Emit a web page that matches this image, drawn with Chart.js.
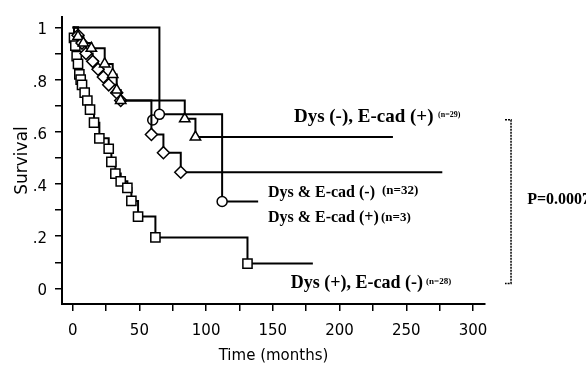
<!DOCTYPE html>
<html>
<head>
<meta charset="utf-8">
<script src="https://cdn.jsdelivr.net/npm/chart.js@4.4.1/dist/chart.umd.min.js"></script>
<style>
html, body { margin: 0; padding: 0; background: #fff; }
#caixa { width: 586px; height: 369px; }
</style>
</head>
<body>
<div id="caixa"><canvas id="grafico" width="586" height="369"></canvas></div>
<script>

// Kaplan-Meier steps (months, survival)
const quadT = [0, 1, 2, 3, 4, 5, 6, 7, 9, 11, 13, 16, 20, 27, 29, 32, 36, 41, 44, 49, 62, 131, 180]
const quadS = [1, .96, .93, .89, .86, .82, .80, .78, .75, .72, .685, .635, .575, .535, .485, .44, .41, .385, .335, .275, .195, .095, .095]

const triT = [0, 4, 8, 14, 24, 30, 33, 36, 84, 92, 240]
const triS = [1, .965, .94, .92, .86, .82, .76, .72, .65, .58, .58]

const losT = [0, 4, 7, 10, 15, 19, 23, 27, 33, 36, 59, 68, 81, 277]
const losS = [1, .97, .94, .90, .87, .84, .81, .78, .75, .72, .59, .52, .445, .445]

const circT = [0, 65, 112, 139]
const circS = [1, .667, .333, .333]

// loose censor mark
const censT = [60]
const censS = [.645]

const xTicks = [0, 25, 50, 75, 100, 125, 150, 175, 200, 225, 250, 275, 300]
const xLabels = ["0", "", "50", "", "100", "", "150", "", "200", "", "250", "", "300"]
const yTicks = [0, .1, .2, .3, .4, .5, .6, .7, .8, .9, 1]
const yLabels = ["0", "", ".2", "", ".4", "", ".6", "", ".8", "", "1"]

function pontos(t, s){
  return t.map((v, i) => ({ x: v, y: s[i] }))
}

// no marker on the first and last point of a curve
function raio(r){
  return (c) => (c.dataIndex === 0 || c.dataIndex === c.dataset.data.length - 1) ? 0 : r
}

function curva(nome, t, s, estilo, r){
  return {
    label: nome,
    data: pontos(t, s),
    showLine: true,
    stepped: true,
    borderColor: "#000",
    borderWidth: 2,
    backgroundColor: "#fff",
    pointStyle: estilo,
    pointRadius: raio(r),
    pointBorderWidth: 1.5,
    pointBorderColor: "#000",
    pointBackgroundColor: "#fff",
    fill: false
  }
}

const textos = [
  { texto: "Dys (-), E-cad (+)", mes: 165.8, surv: .657, fonte: "bold 19px 'Liberation Serif'" },
  { texto: "(n=29)", mes: 273.8, surv: .664, fonte: "bold 8px 'Liberation Serif'" },
  { texto: "Dys & E-cad (-)", mes: 146.3, surv: .366, fonte: "bold 16px 'Liberation Serif'" },
  { texto: "(n=32)", mes: 231.8, surv: .373, fonte: "bold 13px 'Liberation Serif'" },
  { texto: "Dys & E-cad (+)", mes: 146.3, surv: .272, fonte: "bold 16px 'Liberation Serif'" },
  { texto: "(n=3)", mes: 231, surv: .272, fonte: "bold 13px 'Liberation Serif'" },
  { texto: "Dys (+), E-cad (-)", mes: 163.5, surv: .019, fonte: "bold 18px 'Liberation Serif'" },
  { texto: "(n=28)", mes: 264.8, surv: .026, fonte: "bold 9px 'Liberation Serif'" },
  { texto: "P=0.0007", mes: 340.6, surv: .34, fonte: "bold 16px 'Liberation Serif'" }
]

const anotacoes = {
  id: "anotacoes",
  afterDraw(chart){
    const ctx = chart.ctx
    const sx = chart.scales.x
    const sy = chart.scales.y
    ctx.save()
    ctx.fillStyle = "#000"
    ctx.textBaseline = "middle"
    ctx.textAlign = "left"
    textos.forEach(t => {
      ctx.font = t.fonte
      ctx.fillText(t.texto, sx.getPixelForValue(t.mes), sy.getPixelForValue(t.surv))
    })

    // bracket next to the p value
    let bx = sx.getPixelForValue(328.5)
    let bx0 = sx.getPixelForValue(324)
    let top = sy.getPixelForValue(.646)
    let bot = sy.getPixelForValue(.019)
    ctx.strokeStyle = "#000"
    ctx.lineWidth = 1.5
    ctx.setLineDash([2, 1])
    ctx.beginPath()
    ctx.moveTo(bx0, top)
    ctx.lineTo(bx, top)
    ctx.lineTo(bx, bot)
    ctx.lineTo(bx0, bot)
    ctx.stroke()
    ctx.restore()
  }
}

const ctx = document.getElementById("grafico").getContext("2d")

const grafico = new Chart(ctx, {
  type: "scatter",
  data: {
    datasets: [
      curva("Dys & E-cad (+)", circT, circS, "circle", 5),
      curva("Dys (-), E-cad (+)", triT, triS, "triangle", 6),
      curva("Dys & E-cad (-)", losT, losS, "rectRot", 6),
      curva("Dys (+), E-cad (-)", quadT, quadS, "rect", 6.5),
      {
        label: "censored",
        data: pontos(censT, censS),
        showLine: false,
        pointStyle: "circle",
        pointRadius: 5,
        pointBorderWidth: 1.5,
        pointBorderColor: "#000",
        pointBackgroundColor: "#fff"
      }
    ]
  },
  options: {
    responsive: false,
    animation: false,
    devicePixelRatio: 1,
    layout: { padding: { left: 0, top: 9, right: 101, bottom: 0 } },
    plugins: {
      legend: { display: false },
      tooltip: { enabled: false }
    },
    scales: {
      x: {
        type: "linear",
        min: -8,
        max: 309,
        afterBuildTicks: (s) => { s.ticks = xTicks.map(v => ({ value: v })) },
        afterFit: (s) => { s.height = 65 },
        ticks: {
          autoSkip: false,
          maxRotation: 0,
          color: "#000",
          padding: 11,
          font: { family: "'DejaVu Sans'", size: 15 },
          callback: (v, i) => xLabels[i]
        },
        grid: { drawOnChartArea: false, drawTicks: true, tickLength: 7, color: "#000", lineWidth: 1.5 },
        border: { display: true, color: "#000", width: 2 },
        title: {
          display: true,
          text: "Time (months)",
          color: "#000",
          font: { family: "'DejaVu Sans'", size: 15 },
          padding: { top: 0, bottom: 4 }
        }
      },
      y: {
        type: "linear",
        min: -.06,
        max: 1.04,
        afterBuildTicks: (s) => { s.ticks = yTicks.map(v => ({ value: v })) },
        afterFit: (s) => { s.width = 62 },
        ticks: {
          autoSkip: false,
          color: "#000",
          padding: 8,
          labelOffset: 3,
          font: { family: "'DejaVu Sans'", size: 15 },
          callback: (v, i) => yLabels[i]
        },
        grid: { drawOnChartArea: false, drawTicks: true, tickLength: 7, color: "#000", lineWidth: 1.5 },
        border: { display: true, color: "#000", width: 2 },
        title: {
          display: true,
          text: "Survival",
          color: "#000",
          font: { family: "'DejaVu Sans'", size: 17 },
          padding: { top: 12, bottom: 0 }
        }
      }
    }
  },
  plugins: [anotacoes]
})
</script>
</body>
</html>
